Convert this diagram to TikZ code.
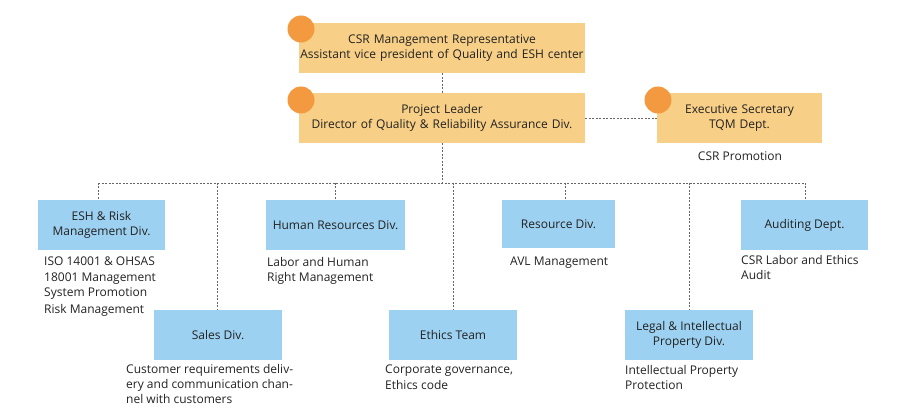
\documentclass[tikz,border=0pt]{standalone}
\usepackage{fontspec}
\setmainfont{Open Sans}
\definecolor{obox}{HTML}{F8CF86}
\definecolor{odot}{HTML}{F39A40}
\definecolor{bbox}{HTML}{9DD1F1}
\definecolor{txt}{HTML}{222222}
\begin{document}
\begin{tikzpicture}[x=1pt,y=-1pt,font=\fontsize{12}{15.2}\selectfont,text=txt,
 ob/.style={fill=obox,inner sep=0pt,align=center,text width=#1},
 bb/.style={fill=bbox,inner sep=0pt,align=center},
 dot/.style={circle,fill=odot,minimum size=27pt,inner sep=0pt},
 note/.style={anchor=north west,align=left,inner sep=0pt},
 conn/.style={draw=gray!80!black,dashed,dash pattern=on 2pt off 1.5pt,line width=0.6pt}]
\useasboundingbox (0,0) rectangle (900,419);
\node[ob=286pt,minimum height=50pt] (top) at (442,48) {CSR Management Representative\\Assistant vice president of Quality and ESH center};
\node[ob=286pt,minimum height=50pt] (pl) at (442,118) {Project Leader\\Director of Quality \& Reliability Assurance Div.};
\node[ob=165pt,minimum height=50pt] (ex) at (739.5,118) {Executive Secretary\\TQM Dept.};
\node[dot] (d1) at (301,29) {};
\node[dot] (d2) at (301,100) {};
\node[dot] (d3) at (658,100) {};
\node (csr) at (740,156) {CSR Promotion};
\draw[conn] (top) -- (pl);
\draw[conn] (pl) -- (ex);
\coordinate (bl) at (98,183); \coordinate (br) at (805,183); \coordinate (bm) at (453,183);
\draw[conn] (pl.south) -- (pl.south |- bl);
\draw[conn] (bl) -- (br);
\node[bb,minimum width=127pt,minimum height=50pt] (esh) at (101.5,225) {ESH \& Risk\\Management Div.};
\node[bb,minimum width=139pt,minimum height=50pt] (hr) at (335.5,225) {Human Resources Div.};
\node[bb,minimum width=113pt,minimum height=48pt] (res) at (558.5,224) {Resource Div.};
\node[bb,minimum width=127pt,minimum height=50pt] (aud) at (804.5,225) {Auditing Dept.};
\node[bb,minimum width=128pt,minimum height=50pt] (sal) at (218,335) {Sales Div.};
\node[bb,minimum width=128pt,minimum height=50pt] (eth) at (453,335) {Ethics Team};
\node[bb,minimum width=128pt,minimum height=50pt] (leg) at (689,335) {Legal \& Intellectual\\Property Div.};
\draw[conn] (bl) -- (esh.north -| bl);
\draw[conn] (hr.north |- bl) -- (hr.north);
\draw[conn] (565,183) -- (565,200);
\draw[conn] (br) -- (805,200);
\draw[conn] (217,183) -- (217,310);
\draw[conn] (bm) -- (eth.north);
\draw[conn] (689,183) -- (689,310);
\node[note] at (44,257) {ISO 14001 \& OHSAS\\18001 Management\\System Promotion\\[2pt]Risk Management};
\node[note] at (267,257) {Labor and Human\\Right Management};
\node[note] at (510,257) {AVL Management};
\node[note] at (741,255) {CSR Labor and Ethics\\Audit};
\node[note] at (126,364) {Customer requirements deliv-\\ery and communication chan-\\nel with customers};
\node[note] at (385,365) {Corporate governance,\\Ethics code};
\node[note] at (625,365) {Intellectual Property\\Protection};
\end{tikzpicture}
\end{document}
